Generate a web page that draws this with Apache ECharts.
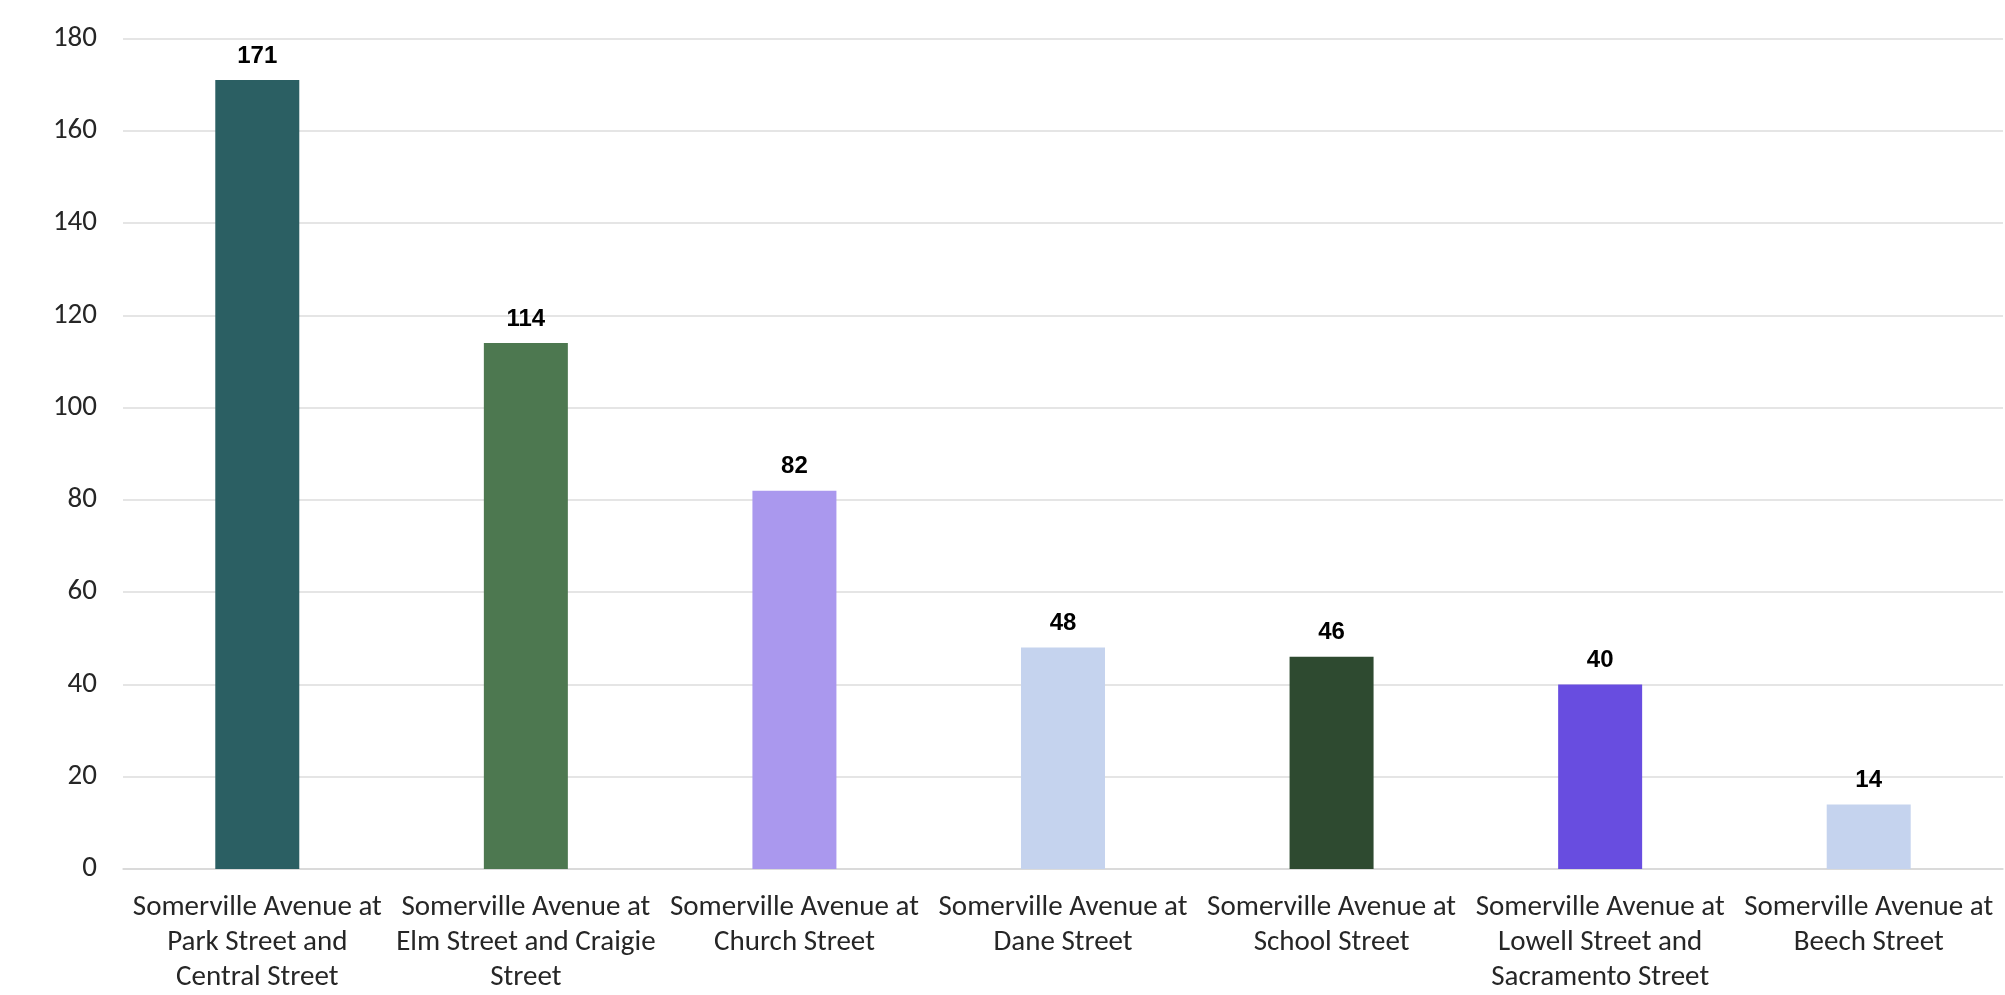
<!DOCTYPE html>
<html>
<head>
<meta charset="utf-8">
<script src="https://cdn.jsdelivr.net/npm/echarts@6/dist/echarts.min.js"></script>
<style>
  html, body { margin: 0; padding: 0; background: #ffffff; }
  #chart { width: 2005px; height: 995px; }
</style>
</head>
<body>
<div id="chart"></div>
<script>
// Intersection names (line breaks as shown under each bar)
const categories = [
  "Somerville Avenue at\nPark Street and\nCentral Street",
  "Somerville Avenue at\nElm Street and Craigie\nStreet",
  "Somerville Avenue at\nChurch Street",
  "Somerville Avenue at\nDane Street",
  "Somerville Avenue at\nSchool Street",
  "Somerville Avenue at\nLowell Street and\nSacramento Street",
  "Somerville Avenue at\nBeech Street"
];
// Count per intersection
const values = [171, 114, 82, 48, 46, 40, 14];
// Bar fill per intersection
const barColors = ["#2b5f63", "#4d7850", "#aa98ee", "#c5d3ee", "#2e4a30", "#684de0", "#c5d3ee"];
// Value axis ticks
const yMin = 0, yMax = 180, yStep = 20;

const labelFont = "Carlito, 'Liberation Sans Narrow', 'Open Sans', sans-serif";

const chart = echarts.init(document.getElementById('chart'), null, { renderer: 'canvas' });
chart.setOption({
  animation: false,
  backgroundColor: '#ffffff',
  grid: { left: 123, right: 2, top: 38.5, bottom: 124 },
  xAxis: {
    type: 'category',
    data: categories,
    axisTick: { show: false },
    axisLine: { show: true, lineStyle: { color: '#d6d6d6', width: 1.5 } },
    axisLabel: {
      interval: 0,
      margin: 21,
      color: '#262626',
      fontFamily: labelFont,
      fontSize: 29,
      lineHeight: 35
    }
  },
  yAxis: {
    type: 'value',
    min: yMin,
    max: yMax,
    interval: yStep,
    axisLine: { show: false },
    axisTick: { show: false },
    splitLine: { lineStyle: { color: '#dcdcdc', width: 1.5 } },
    axisLabel: {
      margin: 26,
      color: '#262626',
      fontFamily: labelFont,
      fontSize: 29
    }
  },
  series: [{
    type: 'bar',
    barWidth: 84,
    data: values.map((v, i) => ({ value: v, itemStyle: { color: barColors[i] } })),
    label: {
      show: true,
      position: 'top',
      distance: 12,
      color: '#000000',
      fontWeight: 'bold',
      fontFamily: "'Liberation Sans', Arial, sans-serif",
      fontSize: 24
    }
  }]
});
</script>
</body>
</html>
